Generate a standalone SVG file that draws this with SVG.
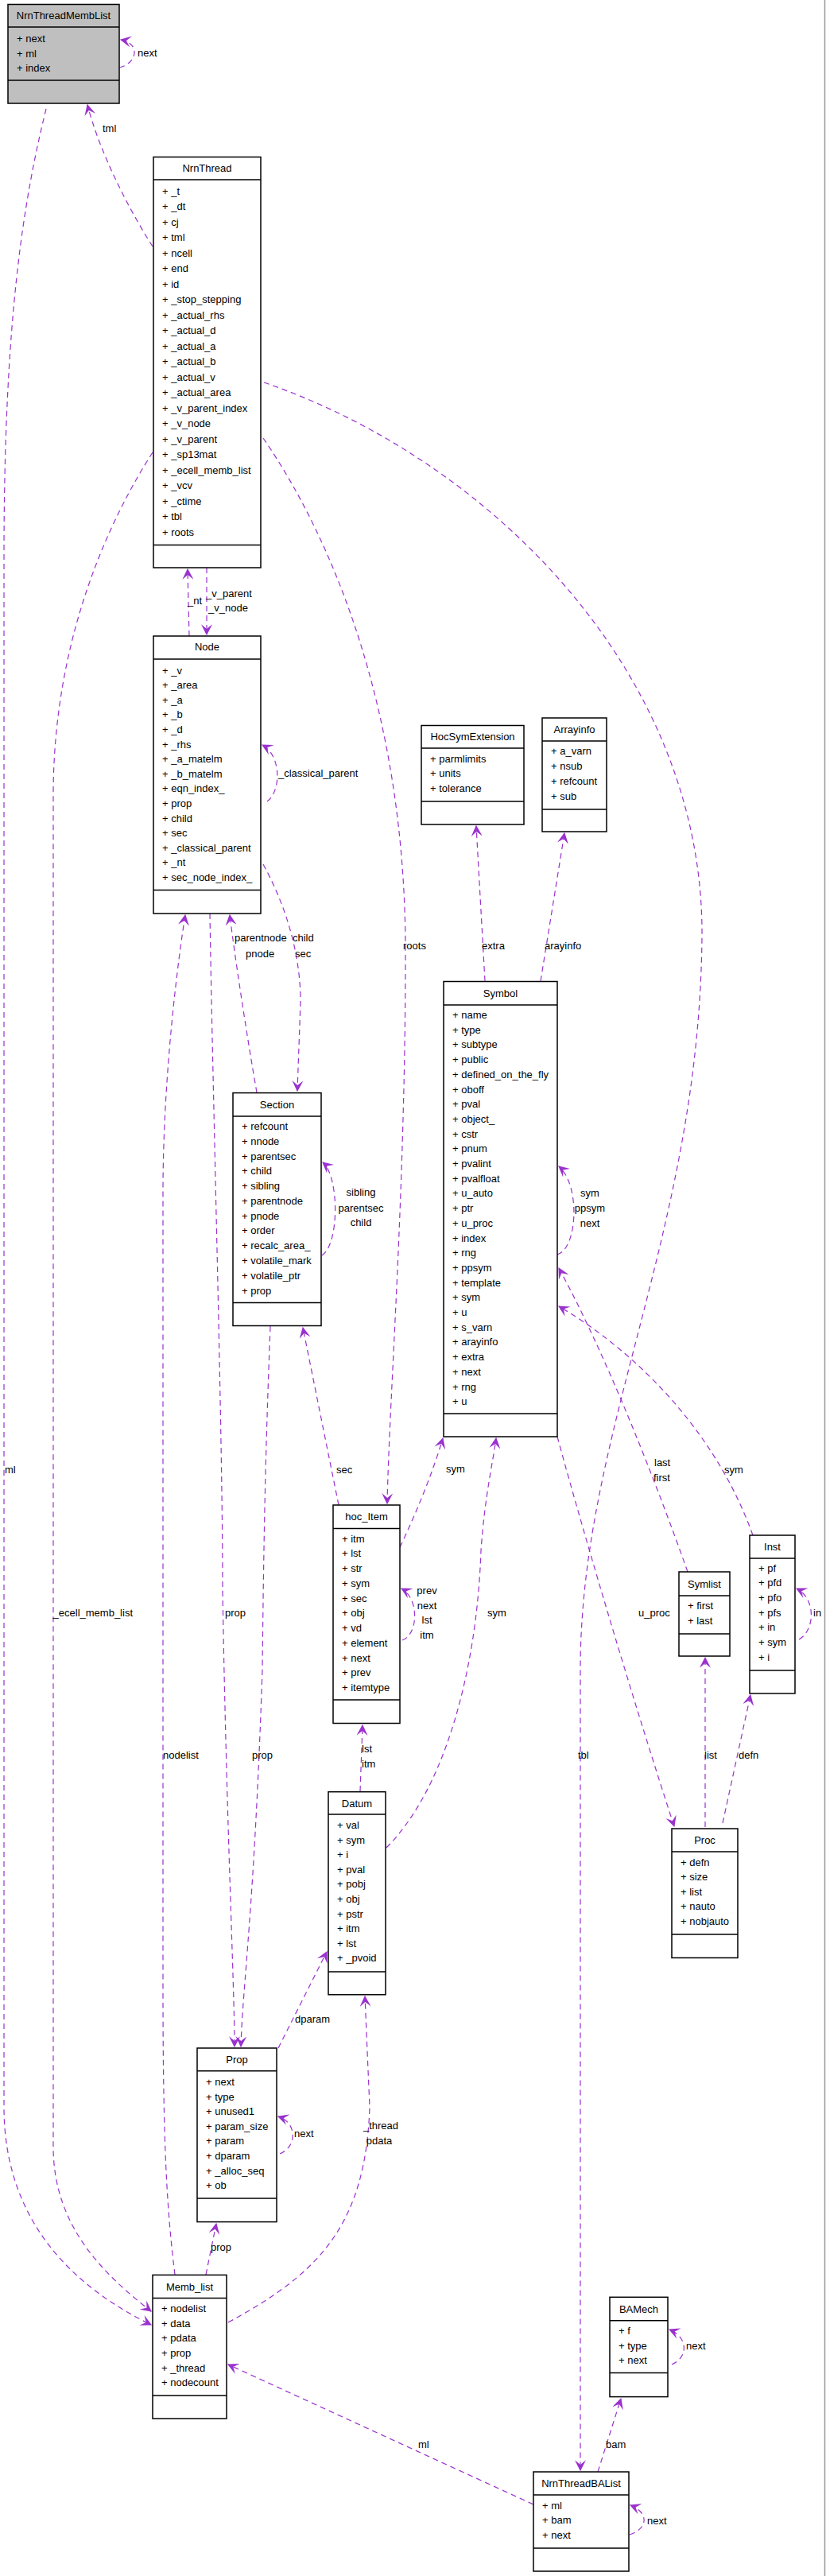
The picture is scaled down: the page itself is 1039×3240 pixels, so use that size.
<svg xmlns="http://www.w3.org/2000/svg" width="1039" height="3240" viewBox="0 0 1039 3240">
<style>
text{font-family:"Liberation Sans",Arial,sans-serif;font-size:13px;fill:#000}
.t{text-anchor:middle}
.b{fill:#fff;stroke:#000;stroke-width:1.5}
.g{fill:#bfbfbf}
.s{stroke:#000;stroke-width:1.5}
.e{fill:none;stroke:#9a32cd;stroke-width:1.2;stroke-dasharray:7,5;marker-end:url(#a)}
.l{text-anchor:start}
.m{text-anchor:middle}
</style>
<defs>
<marker id="a" markerWidth="14" markerHeight="14" viewBox="0 0 12 12" refX="11" refY="6" orient="auto" markerUnits="userSpaceOnUse">
<path d="M0,0 L12,6 L0,12 L5,6 Z" fill="#9a32cd"/>
</marker>
</defs>
<rect width="1039" height="3240" fill="#fff"/>
<line x1="1037.5" y1="0" x2="1037.5" y2="3240" stroke="#999" stroke-width="1.5"/>

<g id="connectors">
<path class="e" d="M150,85 C172,80 178,55 152,50"/>
<path class="e" d="M192,310 C160,260 125,190 110,132"/>
<path class="e" d="M58,137 C30,250 5,400 5,700 L5,2650 C5,2800 100,2880 190,2924"/>
<path class="e" d="M192,569 C140,650 67,800 67,1000 L67,2700 C67,2800 130,2860 190,2907"/>
<path class="e" d="M238,800 L236,716"/>
<path class="e" d="M260,714 L260,798"/>
<path class="e" d="M332,481 C620,580 885,850 883,1177 C880,1550 730,1800 730,2100 L730,3107"/>
<path class="e" d="M331,551 C420,680 510,900 510,1197 C510,1500 490,1750 487,1891"/>
<path class="e" d="M336,1008 C354,995 354,950 330,937"/>
<path class="e" d="M220,2861 C210,2780 205,2700 205,2500 L205,1500 C205,1350 225,1200 233,1151"/>
<path class="e" d="M264,1149 C268,1400 280,1800 280,2000 C285,2300 295,2500 295,2574"/>
<path class="e" d="M323,1374 C310,1300 295,1200 289,1151"/>
<path class="e" d="M331,1087 C360,1140 378,1200 378,1260 L374,1372"/>
<path class="e" d="M405,1579 C427,1565 427,1480 406,1462"/>
<path class="e" d="M340,1668 C335,1800 332,1900 330,2100 C320,2400 305,2500 303,2574"/>
<path class="e" d="M426,1893 L381,1670"/>
<path class="e" d="M503,1946 C525,1900 545,1850 557,1809"/>
<path class="e" d="M506,2063 C527,2055 527,2010 505,1998"/>
<path class="e" d="M453,2253 L456,2170"/>
<path class="e" d="M486,2324 C560,2250 600,2100 605,1950 C610,1880 620,1840 624,1809"/>
<path class="e" d="M701,1807 C740,1950 800,2150 848,2297"/>
<path class="e" d="M865,1977 C820,1850 760,1700 703,1595"/>
<path class="e" d="M947,1931 C900,1800 800,1700 703,1643"/>
<path class="e" d="M887,2298 L887,2085"/>
<path class="e" d="M909,2293 L944,2132"/>
<path class="e" d="M1005,2062 C1026,2050 1026,2010 1002,1998"/>
<path class="e" d="M610,1234 L599,1039"/>
<path class="e" d="M680,1234 L710,1048"/>
<path class="e" d="M701,1578 C727,1570 730,1490 703,1467"/>
<path class="e" d="M350,2576 L411,2455"/>
<path class="e" d="M259,2861 L272,2797"/>
<path class="e" d="M352,2709 C374,2700 374,2670 350,2662"/>
<path class="e" d="M287,2921 C400,2860 460,2800 465,2650 L459,2511"/>
<path class="e" d="M671,3150 L287,2974"/>
<path class="e" d="M752,3109 L781,3017"/>
<path class="e" d="M845,2974 C866,2965 866,2940 842,2930"/>
<path class="e" d="M792,3188 C816,3180 816,3160 793,3151"/>
<text class="l" x="173" y="71">next</text>
<text class="l" x="129" y="166">tml</text>
<text class="l" x="6" y="1853">ml</text>
<text x="167" y="2033" text-anchor="end">_ecell_memb_list</text>
<text class="l" x="236" y="760">_nt</text>
<text class="l" x="259" y="751">_v_parent</text>
<text class="l" x="262" y="769">_v_node</text>
<text class="l" x="350" y="977">_classical_parent</text>
<text class="l" x="295" y="1184">parentnode</text>
<text class="l" x="309" y="1204">pnode</text>
<text class="l" x="368" y="1184">child</text>
<text class="l" x="371" y="1204">sec</text>
<text class="l" x="507" y="1194">roots</text>
<text class="l" x="606" y="1194">extra</text>
<text class="l" x="685" y="1194">arayinfo</text>
<text class="m" x="454" y="1504">sibling</text>
<text class="m" x="454" y="1524">parentsec</text>
<text class="m" x="454" y="1542">child</text>
<text class="m" x="742" y="1505">sym</text>
<text class="m" x="742" y="1524">ppsym</text>
<text class="m" x="742" y="1543">next</text>
<text class="l" x="423" y="1853">sec</text>
<text class="l" x="561" y="1852">sym</text>
<text class="l" x="823" y="1844">last</text>
<text class="l" x="822" y="1863">first</text>
<text class="l" x="911" y="1853">sym</text>
<text class="l" x="283" y="2033">prop</text>
<text class="l" x="317" y="2212">prop</text>
<text class="l" x="205" y="2212">nodelist</text>
<text class="m" x="537" y="2005">prev</text>
<text class="m" x="537" y="2024">next</text>
<text class="m" x="537" y="2042">lst</text>
<text class="m" x="537" y="2061">itm</text>
<text class="l" x="613" y="2033">sym</text>
<text class="l" x="803" y="2033">u_proc</text>
<text class="l" x="1023" y="2033">in</text>
<text class="l" x="455" y="2204">lst</text>
<text class="l" x="455" y="2223">itm</text>
<text class="l" x="727" y="2212">tbl</text>
<text class="l" x="886" y="2212">list</text>
<text class="l" x="929" y="2212">defn</text>
<text class="l" x="371" y="2544">dparam</text>
<text class="l" x="370" y="2688">next</text>
<text class="m" x="479" y="2678">_thread</text>
<text class="m" x="477" y="2697">pdata</text>
<text class="l" x="265" y="2831">prop</text>
<text class="l" x="526" y="3079">ml</text>
<text class="l" x="762" y="3079">bam</text>
<text class="l" x="863" y="2955">next</text>
<text class="l" x="814" y="3175">next</text>
</g>

<g id="NrnThreadMembList">
<rect class="b g" x="10" y="5.5" width="140" height="124.5"/>
<line class="s" x1="10" y1="34" x2="150" y2="34"/><line class="s" x1="10" y1="101" x2="150" y2="101"/>
<text class="t" x="80" y="24">NrnThreadMembList</text>
<text x="21" y="52.5">+ next</text><text x="21" y="71.5">+ ml</text><text x="21" y="89.5">+ index</text>
</g>

<g id="NrnThread">
<rect class="b" x="193" y="197.5" width="135" height="516.5"/>
<line class="s" x1="193" y1="226" x2="328" y2="226"/><line class="s" x1="193" y1="685.5" x2="328" y2="685.5"/>
<text class="t" x="260.5" y="216">NrnThread</text>
<text x="204" y="244.5">+ _t</text><text x="204" y="264">+ _dt</text><text x="204" y="283.5">+ cj</text><text x="204" y="303">+ tml</text><text x="204" y="322.5">+ ncell</text><text x="204" y="342">+ end</text><text x="204" y="361.5">+ id</text><text x="204" y="381">+ _stop_stepping</text><text x="204" y="400.5">+ _actual_rhs</text><text x="204" y="420">+ _actual_d</text><text x="204" y="439.5">+ _actual_a</text><text x="204" y="459">+ _actual_b</text><text x="204" y="478.5">+ _actual_v</text><text x="204" y="498">+ _actual_area</text><text x="204" y="517.5">+ _v_parent_index</text><text x="204" y="537">+ _v_node</text><text x="204" y="556.5">+ _v_parent</text><text x="204" y="576">+ _sp13mat</text><text x="204" y="595.5">+ _ecell_memb_list</text><text x="204" y="615">+ _vcv</text><text x="204" y="634.5">+ _ctime</text><text x="204" y="654">+ tbl</text><text x="204" y="673.5">+ roots</text><text x="204" y="693" display="none"></text>
<text x="204" y="673.5" display="none"></text>
<text x="204" y="673.5" visibility="hidden">.</text>
</g>

<g id="NrnThread_userpart">
<text x="204" y="673.5" visibility="hidden"></text>
</g>

<g id="Node">
<rect class="b" x="193" y="800" width="135" height="349"/>
<line class="s" x1="193" y1="829" x2="328" y2="829"/><line class="s" x1="193" y1="1119.5" x2="328" y2="1119.5"/>
<text class="t" x="260.5" y="818">Node</text>
<text x="204" y="847.5">+ _v</text><text x="204" y="866">+ _area</text><text x="204" y="884.7">+ _a</text><text x="204" y="903.3">+ _b</text><text x="204" y="921.9">+ _d</text><text x="204" y="940.5">+ _rhs</text><text x="204" y="959.1">+ _a_matelm</text><text x="204" y="977.7">+ _b_matelm</text><text x="204" y="996.3">+ eqn_index_</text><text x="204" y="1014.9">+ prop</text><text x="204" y="1033.5">+ child</text><text x="204" y="1052.1">+ sec</text><text x="204" y="1070.7">+ _classical_parent</text><text x="204" y="1089.3">+ _nt</text><text x="204" y="1107.9">+ sec_node_index_</text>
</g>

<g id="Section">
<rect class="b" x="293" y="1374.6" width="111" height="292.9"/>
<line class="s" x1="293" y1="1404" x2="404" y2="1404"/><line class="s" x1="293" y1="1638.5" x2="404" y2="1638.5"/>
<text class="t" x="348.5" y="1393.5">Section</text>
<text x="304" y="1421">+ refcount</text><text x="304" y="1439.8">+ nnode</text><text x="304" y="1458.6">+ parentsec</text><text x="304" y="1477.3">+ child</text><text x="304" y="1496.1">+ sibling</text><text x="304" y="1514.9">+ parentnode</text><text x="304" y="1533.6">+ pnode</text><text x="304" y="1552.4">+ order</text><text x="304" y="1571.2">+ recalc_area_</text><text x="304" y="1589.9">+ volatile_mark</text><text x="304" y="1608.7">+ volatile_ptr</text><text x="304" y="1627.5">+ prop</text>
</g>

<g id="HocSymExtension">
<rect class="b" x="530" y="912.5" width="129" height="124.5"/>
<line class="s" x1="530" y1="941" x2="659" y2="941"/><line class="s" x1="530" y1="1008" x2="659" y2="1008"/>
<text class="t" x="594.5" y="931">HocSymExtension</text>
<text x="541" y="959">+ parmlimits</text><text x="541" y="977">+ units</text><text x="541" y="995.5">+ tolerance</text>
</g>

<g id="Arrayinfo">
<rect class="b" x="682" y="903" width="81" height="143"/>
<line class="s" x1="682" y1="932" x2="763" y2="932"/><line class="s" x1="682" y1="1018" x2="763" y2="1018"/>
<text class="t" x="722.5" y="922">Arrayinfo</text>
<text x="693" y="948.5">+ a_varn</text><text x="693" y="967.5">+ nsub</text><text x="693" y="986.5">+ refcount</text><text x="693" y="1005.5">+ sub</text>
</g>

<g id="Symbol">
<rect class="b" x="558" y="1234.5" width="143" height="572.5"/>
<line class="s" x1="558" y1="1264" x2="701" y2="1264"/><line class="s" x1="558" y1="1778" x2="701" y2="1778"/>
<text class="t" x="629.5" y="1253.5">Symbol</text>
<text x="569" y="1281">+ name</text><text x="569" y="1299.7">+ type</text><text x="569" y="1318.4">+ subtype</text><text x="569" y="1337.1">+ public</text><text x="569" y="1355.8">+ defined_on_the_fly</text><text x="569" y="1374.5">+ oboff</text><text x="569" y="1393.2">+ pval</text><text x="569" y="1411.9">+ object_</text><text x="569" y="1430.6">+ cstr</text><text x="569" y="1449.3">+ pnum</text><text x="569" y="1468">+ pvalint</text><text x="569" y="1486.7">+ pvalfloat</text><text x="569" y="1505.4">+ u_auto</text><text x="569" y="1524.1">+ ptr</text><text x="569" y="1542.8">+ u_proc</text><text x="569" y="1561.5">+ index</text><text x="569" y="1580.2">+ rng</text><text x="569" y="1598.9">+ ppsym</text><text x="569" y="1617.6">+ template</text><text x="569" y="1636.3">+ sym</text><text x="569" y="1655">+ u</text><text x="569" y="1673.7">+ s_varn</text><text x="569" y="1692.4">+ arayinfo</text><text x="569" y="1711.1">+ extra</text><text x="569" y="1729.8">+ next</text><text x="569" y="1748.5">+ rng</text><text x="569" y="1767.2">+ u</text>
</g>

<g id="hoc_Item">
<rect class="b" x="419" y="1893" width="84" height="274.5"/>
<line class="s" x1="419" y1="1922.5" x2="503" y2="1922.5"/><line class="s" x1="419" y1="2138" x2="503" y2="2138"/>
<text class="t" x="461" y="1912">hoc_Item</text>
<text x="430" y="1939.5">+ itm</text><text x="430" y="1958.3">+ lst</text><text x="430" y="1977">+ str</text><text x="430" y="1995.8">+ sym</text><text x="430" y="2014.5">+ sec</text><text x="430" y="2033.3">+ obj</text><text x="430" y="2052">+ vd</text><text x="430" y="2070.8">+ element</text><text x="430" y="2089.5">+ next</text><text x="430" y="2108.3">+ prev</text><text x="430" y="2127">+ itemtype</text>
</g>

<g id="Symlist">
<rect class="b" x="854" y="1977" width="64" height="106"/>
<line class="s" x1="854" y1="2007" x2="918" y2="2007"/><line class="s" x1="854" y1="2055" x2="918" y2="2055"/>
<text class="t" x="886" y="1996.5">Symlist</text>
<text x="865" y="2024">+ first</text><text x="865" y="2043">+ last</text>
</g>

<g id="Inst">
<rect class="b" x="943" y="1931" width="57" height="199"/>
<line class="s" x1="943" y1="1960" x2="1000" y2="1960"/><line class="s" x1="943" y1="2101" x2="1000" y2="2101"/>
<text class="t" x="971.5" y="1950">Inst</text>
<text x="954" y="1976.5">+ pf</text><text x="954" y="1995.2">+ pfd</text><text x="954" y="2013.9">+ pfo</text><text x="954" y="2032.6">+ pfs</text><text x="954" y="2051.3">+ in</text><text x="954" y="2070">+ sym</text><text x="954" y="2088.7">+ i</text>
</g>

<g id="Datum">
<rect class="b" x="413" y="2253.7" width="72" height="255.1"/>
<line class="s" x1="413" y1="2282" x2="485" y2="2282"/><line class="s" x1="413" y1="2480" x2="485" y2="2480"/>
<text class="t" x="449" y="2272.5">Datum</text>
<text x="424" y="2300">+ val</text><text x="424" y="2318.6">+ sym</text><text x="424" y="2337.2">+ i</text><text x="424" y="2355.8">+ pval</text><text x="424" y="2374.4">+ pobj</text><text x="424" y="2393">+ obj</text><text x="424" y="2411.6">+ pstr</text><text x="424" y="2430.2">+ itm</text><text x="424" y="2448.8">+ lst</text><text x="424" y="2467.4">+ _pvoid</text>
</g>

<g id="Proc">
<rect class="b" x="845" y="2300" width="83" height="162.5"/>
<line class="s" x1="845" y1="2329" x2="928" y2="2329"/><line class="s" x1="845" y1="2433" x2="928" y2="2433"/>
<text class="t" x="886.5" y="2319">Proc</text>
<text x="856" y="2346.5">+ defn</text><text x="856" y="2365.1">+ size</text><text x="856" y="2383.7">+ list</text><text x="856" y="2402.3">+ nauto</text><text x="856" y="2420.9">+ nobjauto</text>
</g>

<g id="Prop">
<rect class="b" x="248" y="2576" width="100" height="218.6"/>
<line class="s" x1="248" y1="2604.7" x2="348" y2="2604.7"/><line class="s" x1="248" y1="2765" x2="348" y2="2765"/>
<text class="t" x="298" y="2595">Prop</text>
<text x="259" y="2623">+ next</text><text x="259" y="2641.6">+ type</text><text x="259" y="2660.2">+ unused1</text><text x="259" y="2678.8">+ param_size</text><text x="259" y="2697.4">+ param</text><text x="259" y="2716">+ dparam</text><text x="259" y="2734.6">+ _alloc_seq</text><text x="259" y="2753.2">+ ob</text>
</g>

<g id="Memb_list">
<rect class="b" x="192" y="2861.4" width="93" height="180.6"/>
<line class="s" x1="192" y1="2890.4" x2="285" y2="2890.4"/><line class="s" x1="192" y1="3013" x2="285" y2="3013"/>
<text class="t" x="238.5" y="2880.5">Memb_list</text>
<text x="203" y="2908">+ nodelist</text><text x="203" y="2926.6">+ data</text><text x="203" y="2945.3">+ pdata</text><text x="203" y="2963.9">+ prop</text><text x="203" y="2982.6">+ _thread</text><text x="203" y="3001.2">+ nodecount</text>
</g>

<g id="BAMech">
<rect class="b" x="767" y="2889.3" width="73" height="125.3"/>
<line class="s" x1="767" y1="2918.7" x2="840" y2="2918.7"/><line class="s" x1="767" y1="2984.6" x2="840" y2="2984.6"/>
<text class="t" x="803.5" y="2908.5">BAMech</text>
<text x="778" y="2935.8">+ f</text><text x="778" y="2954.6">+ type</text><text x="778" y="2973.4">+ next</text>
</g>

<g id="NrnThreadBAList">
<rect class="b" x="671" y="3109" width="120" height="125"/>
<line class="s" x1="671" y1="3138" x2="791" y2="3138"/><line class="s" x1="671" y1="3205" x2="791" y2="3205"/>
<text class="t" x="731" y="3128">NrnThreadBAList</text>
<text x="682" y="3155.5">+ ml</text><text x="682" y="3174">+ bam</text><text x="682" y="3192.5">+ next</text>
</g>
</svg>
